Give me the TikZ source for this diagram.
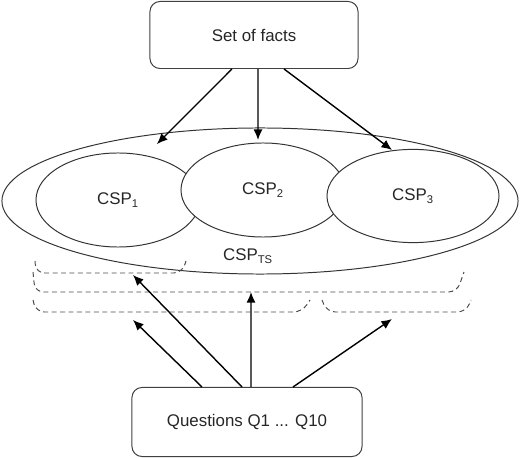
\documentclass[tikz,border=0pt]{standalone}
\usepackage{fontspec}
\setmainfont{Liberation Sans}
\usetikzlibrary{arrows.meta, shapes}

\begin{document}
\begin{tikzpicture}[
        x=0.025cm, y=-0.025cm,
        every node/.style={font=\fontsize{12}{14}\selectfont, text=black!85},
        box/.style={draw=black!75, line width=0.7pt, rounded corners=0.25cm},
        csp/.style={draw=black!80, line width=0.7pt, ellipse, fill=white, inner sep=0pt},
        arrow/.style={draw, line width=1pt, -{Latex[length=7.5pt,width=6.5pt]}},
        bracket/.style={draw=black!70, dash pattern=on 3.5pt off 2.5pt, line width=0.7pt, rounded corners=6pt}
    ]
    \useasboundingbox (0,0) rectangle (520,458);

    % Nodes
    \node (facts) [box, minimum width=5.2cm, minimum height=1.675cm] at (254,35) {Set of facts};
    \node (questions) [box, minimum width=5.75cm, minimum height=1.725cm] at (247,422) {Questions Q1 ... Q10};

    \node (ts) [csp, minimum width=12.9cm, minimum height=3.65cm] at (260,201) {};
    \node (csp1) [csp, minimum width=4.1cm, minimum height=2.35cm] at (118,200) {CSP\textsubscript{1}};
    \node (csp2) [csp, minimum width=4.1cm, minimum height=2.35cm] at (263,190) {CSP\textsubscript{2}};
    \node (csp3) [csp, minimum width=4.3cm, minimum height=2.33cm] at (413,196) {CSP\textsubscript{3}};
    \node (tslabel) at (248,256) {CSP\textsubscript{TS}};

    % Brackets
    \draw[bracket] (35,261) -- (36,273) -- (182,273) -- (186,261);
    \draw[bracket] (33,272) -- (35,292) -- (457,292) -- (464,272);
    \draw[bracket] (33,300) -- (36,312) -- (302,312) -- (310,300);
    \draw[bracket] (322,300) -- (327,312) -- (466,312) -- (471,300);

    % Arrow ends
    \coordinate (f1) at (157,144);
    \coordinate (f2) at (258,140);
    \coordinate (f3) at (392,150);
    \coordinate (q1) at (133,320);
    \coordinate (q2) at (133,275);
    \coordinate (q3) at (251,292);
    \coordinate (q4) at (392,319);

    % Arrows
    \path[arrow] ([xshift=-0.55cm]facts.south) -- (f1);
    \path[arrow] ([xshift=0.1cm]facts.south) -- (f2);
    \path[arrow] ([xshift=0.75cm]facts.south) -- (f3);
    \path[arrow] ([xshift=-1.125cm]questions.north) -- (q1);
    \path[arrow] ([xshift=-0.125cm]questions.north) -- (q2);
    \path[arrow] ([xshift=0.1cm]questions.north) -- (q3);
    \path[arrow] ([xshift=1.15cm]questions.north) -- (q4);

\end{tikzpicture}
\end{document}
